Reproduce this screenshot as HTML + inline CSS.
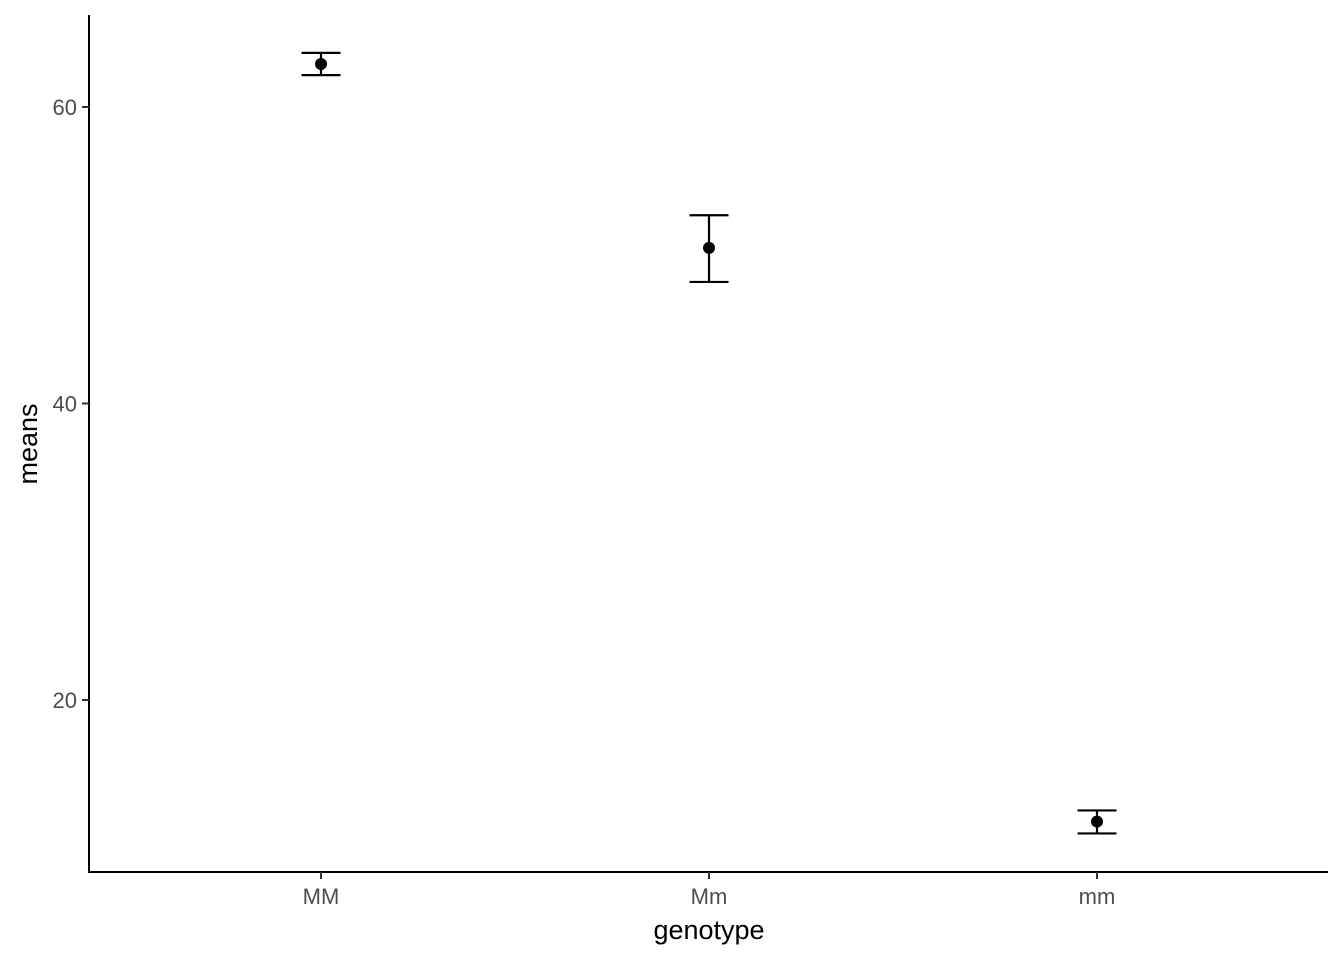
<!DOCTYPE html>
<html><head><meta charset="utf-8"><style>
html,body{margin:0;padding:0;background:#fff}
text{font-family:"Liberation Sans",Arial,sans-serif}
</style></head><body>
<svg id="chart" width="1344" height="960" xmlns="http://www.w3.org/2000/svg">
<g id="axes"></g>
<g id="marks"></g>
<text x="709" y="939" text-anchor="middle" font-size="27" fill="#000">genotype</text>
<text transform="translate(37,444) rotate(-90)" text-anchor="middle" font-size="27" fill="#000">means</text>
</svg>
<script>
const categories = ["MM","Mm","mm"];
const means = [62.9, 50.5, 11.8];
const upper = [63.65, 52.7, 12.55];
const lower = [62.15, 48.2, 11.0];
const yTicks = [20, 40, 60];

const NS="http://www.w3.org/2000/svg";
const plotLeft=89, plotRight=1328, plotTop=15, plotBottom=872;
function yScale(v){return 107+(60-v)*14.825;}
function xScale(i){return 321+i*388;}
function mk(tag,attrs,parent){const e=document.createElementNS(NS,tag);for(const k in attrs)e.setAttribute(k,attrs[k]);parent.appendChild(e);return e;}
const axesG=document.getElementById('axes'), marksG=document.getElementById('marks');
let el=mk('line',{x1:plotLeft,y1:plotTop,x2:plotLeft,y2:plotBottom+1,stroke:'#000','stroke-width':2},axesG);


el=mk('line',{x1:plotLeft-1,y1:plotBottom,x2:plotRight,y2:plotBottom,stroke:'#000','stroke-width':2},axesG);


yTicks.forEach(t=>{
  const yy=yScale(t);
  let e=mk('line',{x1:plotLeft-7,y1:yy,x2:plotLeft,y2:yy,stroke:'#333','stroke-width':2},axesG);
  
  
  e=mk('text',{x:plotLeft-12,y:yy+8,'text-anchor':'end','font-size':22,fill:'#4d4d4d'},axesG);
  e.textContent=t;
  
  
});
categories.forEach((c,i)=>{
  const xx=xScale(i);
  let e=mk('line',{x1:xx,y1:plotBottom,x2:xx,y2:plotBottom+7,stroke:'#333','stroke-width':2},axesG);
  
  
  e=mk('text',{x:xx,y:plotBottom+32,'text-anchor':'middle','font-size':22,fill:'#4d4d4d'},axesG);
  e.textContent=c;
  
  
  const g=mk('g',{},marksG);
  
  
  mk('line',{x1:xx,y1:yScale(upper[i]),x2:xx,y2:yScale(lower[i]),stroke:'#000','stroke-width':2.2},g);
  mk('line',{x1:xx-19.5,y1:yScale(upper[i]),x2:xx+19.5,y2:yScale(upper[i]),stroke:'#000','stroke-width':2.2},g);
  mk('line',{x1:xx-19.5,y1:yScale(lower[i]),x2:xx+19.5,y2:yScale(lower[i]),stroke:'#000','stroke-width':2.2},g);
  e=mk('circle',{cx:xx,cy:yScale(means[i]),r:6,fill:'#000'},marksG);
  
  
});
</script>
</body></html>
